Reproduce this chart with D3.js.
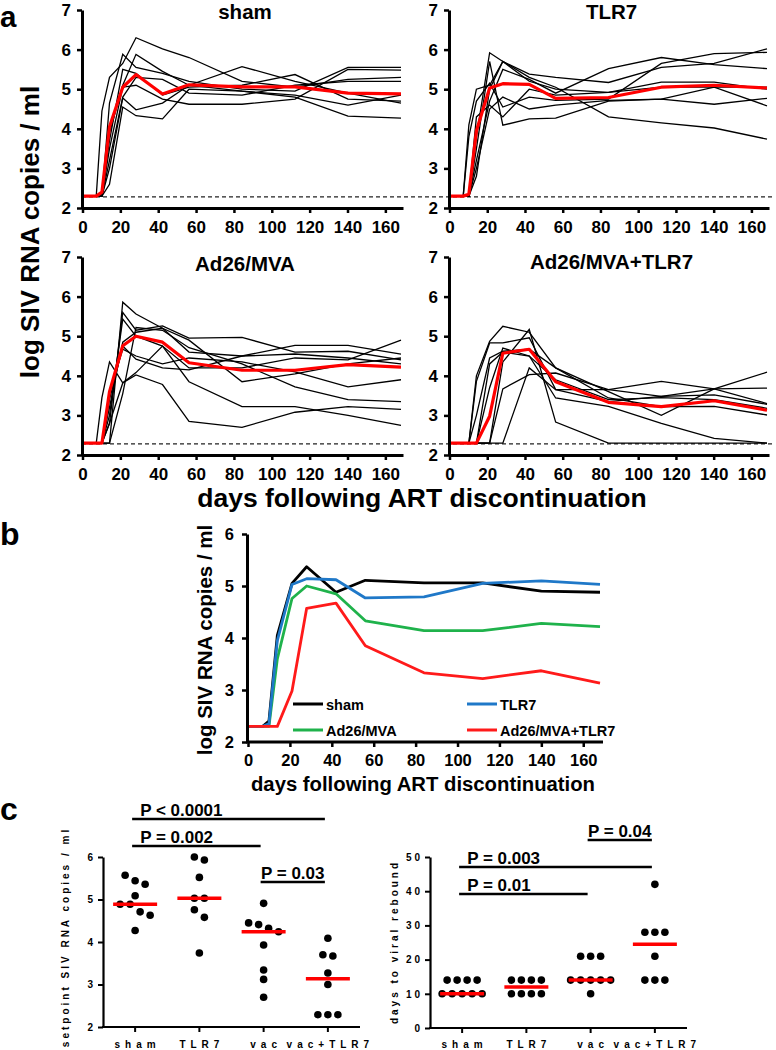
<!DOCTYPE html>
<html><head><meta charset="utf-8">
<script src="https://cdn.jsdelivr.net/npm/d3@7"></script>
<style>
body{margin:0;background:#fff}
svg{display:block}
text{font-family:"Liberation Sans",Arial,Helvetica,sans-serif;font-weight:bold;fill:#000}
</style>
</head><body>
<svg id="fig" width="776" height="1050"></svg>
<script>
// ---------------- DATA ----------------
const days = [0, 7, 10, 14, 21, 28, 42, 56, 84, 112, 140, 168];
const lodLog = 2.28;

const shamAnimals = [
  [2.3,2.3,4.45,5.3,5.65,6.3,6.02,5.8,5.2,5.05,5.25,5.3],
  [2.3,2.3,2.3,4.65,5.88,5.55,5.4,5.2,5.0,4.95,5.55,5.55],
  [2.3,2.3,2.3,3.9,5.1,5.88,5.45,5.1,4.95,4.85,4.6,4.85],
  [2.3,2.3,2.3,3.0,4.78,4.48,4.65,5.1,5.57,5.2,4.9,4.65],
  [2.3,2.3,2.3,2.6,4.55,4.33,4.25,5.0,4.95,4.8,4.32,4.27],
  [2.3,2.3,2.3,3.5,5.05,5.1,4.75,4.62,4.62,4.75,5.5,5.48],
  [2.3,2.3,2.4,3.7,5.5,5.4,4.85,5.05,5.1,5.37,4.75,4.7],
  [2.3,2.3,2.3,3.2,4.8,5.3,5.25,4.9,4.85,5.1,5.2,5.2]
];
const shamMean = [2.3,2.3,2.4,4.05,5.05,5.37,4.88,5.11,5.06,5.06,4.9,4.88];

const tlr7Animals = [
  [2.3,2.3,4.1,5.0,5.1,5.7,5.3,5.05,4.3,4.15,4.02,3.74],
  [2.3,2.3,2.3,3.8,5.92,5.7,5.38,5.3,5.17,5.55,5.65,6.02],
  [2.3,2.3,2.3,3.5,5.7,4.09,4.25,4.27,4.7,4.75,5.05,4.58],
  [2.3,2.3,2.3,3.0,4.5,4.8,4.5,4.6,4.72,4.75,4.62,4.77],
  [2.3,2.3,2.3,2.8,5.0,5.7,5.2,5.0,4.92,5.18,5.18,5.0],
  [2.3,2.3,2.3,3.2,4.7,5.5,5.25,4.9,5.52,5.8,5.62,5.52],
  [2.3,2.3,3.8,4.7,5.15,4.55,4.8,4.72,4.75,5.65,5.9,5.93],
  [2.3,2.3,2.3,4.3,4.6,4.3,5.0,4.85,4.92,5.05,5.05,5.05]
];
const tlr7Mean = [2.3,2.3,2.35,3.95,5.03,5.14,5.12,4.77,4.79,5.05,5.1,5.03];

const ad26Animals = [
  [2.3,2.3,3.45,4.35,3.82,4.02,3.78,2.85,2.7,3.08,3.22,3.15],
  [2.3,2.3,2.3,2.3,5.86,5.56,5.2,4.9,3.85,4.05,4.3,4.45],
  [2.3,2.3,2.3,2.8,5.6,5.15,5.26,4.95,4.97,4.6,4.62,4.4],
  [2.3,2.3,2.3,3.0,5.43,5.0,4.75,3.85,3.22,3.22,3.0,2.75],
  [2.3,2.3,2.3,3.4,4.75,4.42,4.2,4.15,4.5,4.77,4.77,4.55],
  [2.3,2.3,2.3,3.6,4.67,4.5,4.3,4.45,4.35,4.1,3.72,3.9],
  [2.3,2.3,2.3,2.3,3.55,5.22,5.15,4.71,4.3,3.72,3.4,3.35],
  [2.3,2.3,2.3,2.8,3.82,4.08,4.75,4.2,4.2,4.45,4.4,4.9],
  [2.3,2.3,2.3,3.2,4.85,5.1,5.2,4.6,4.5,4.55,4.45,4.3]
];
const ad26Mean = [2.3,2.3,2.3,3.6,4.76,5.0,4.85,4.33,4.14,4.14,4.28,4.22];

const comboAnimals = [
  [2.3,2.3,2.3,4.0,4.87,5.25,5.1,4.2,3.6,3.0,3.67,4.09],
  [2.3,2.3,2.3,3.86,4.83,4.83,4.96,3.65,3.65,3.86,3.67,3.3],
  [2.3,2.3,2.3,2.3,2.3,4.35,5.17,2.83,2.3,2.3,2.3,2.3],
  [2.3,2.3,2.3,2.3,3.7,4.7,4.5,3.44,3.23,2.8,2.42,2.3],
  [2.3,2.3,2.3,2.3,2.3,3.67,4.03,4.07,3.65,3.48,3.67,3.69],
  [2.3,2.3,2.3,2.3,2.3,2.3,4.2,3.65,3.35,3.48,3.52,3.28],
  [2.3,2.3,2.3,3.0,4.45,4.62,4.67,4.2,3.44,3.22,3.23,3.01],
  [2.3,2.3,2.3,2.3,4.3,4.6,4.5,3.9,3.4,3.45,3.4,3.18]
];
const comboMean = [2.3,2.3,2.3,2.3,2.98,4.57,4.67,3.85,3.33,3.22,3.37,3.13];

const xTicksDays = [0,20,40,60,80,100,120,140,160];
const yTicksA = [2,3,4,5,6,7];
const yTicksB = [2,3,4,5,6];

const groupTitlesA = ["sham", "TLR7", "Ad26/MVA", "Ad26/MVA+TLR7"];
const legendNames = ["sham", "TLR7", "Ad26/MVA", "Ad26/MVA+TLR7"];
const legendColors = ["#000000", "#1f78c8", "#1fb24b", "#ff1a1a"];

const categoriesC = ["sham", "TLR7", "vac", "vac+TLR7"];
const setpointSham  = [5.57,5.44,5.36,5.09,4.89,4.89,4.71,4.63,4.27];
const setpointTLR7  = [6.0,5.93,5.52,5.03,5.03,4.76,4.58,3.74];
const setpointVac   = [4.91,4.45,4.41,4.32,4.24,3.93,3.34,3.12,2.70];
const setpointCombo = [4.09,3.70,3.67,3.27,3.0,2.29,2.29,2.29];
const yTicksSet = [2,3,4,5,6];

const reboundSham  = [14,14,14,14,10,10,10,10,10];
const reboundTLR7  = [14,14,14,14,10,10,10,10];
const reboundVac   = [21,21,21,14,14,14,14,14,10];
const reboundCombo = [42,28,28,28,21,14,14,14];
const yTicksReb = [0,10,20,30,40,50];

const sigSetpoint = [["sham","vac+TLR7","P < 0.0001"],["sham","vac","P = 0.002"],["vac","vac+TLR7","P = 0.03"]];
const sigRebound  = [["vac","vac+TLR7","P = 0.04"],["sham","vac+TLR7","P = 0.003"],["sham","vac","P = 0.01"]];

// ---------------- DRAWING ----------------
const svg = d3.select("#fig");
svg.append("rect").attr("width",776).attr("height",1050).attr("fill","#fff");
const FONT = '"Liberation Sans",Arial,Helvetica,sans-serif';

function styleAxis(g, fs, sw, tsw, ls){
  g.attr("font-size", fs).attr("font-family", FONT);
  g.select(".domain").attr("stroke","#000").attr("stroke-width", sw);
  g.selectAll(".tick line").attr("stroke","#000").attr("stroke-width", tsw);
  g.selectAll(".tick text").attr("fill","#000");
  if (ls) g.selectAll(".tick text").style("letter-spacing", ls + "px");
}

// ----- panel a -----
const panelsA = [
  {animals: shamAnimals,  mean: shamMean,  xr:[83,401],  axisX:82,  yr:[208,10],  titleY:19},
  {animals: tlr7Animals,  mean: tlr7Mean,  xr:[450,767], axisX:449, yr:[208,10],  titleY:19},
  {animals: ad26Animals,  mean: ad26Mean,  xr:[83,401],  axisX:82,  yr:[455,257], titleY:271},
  {animals: comboAnimals, mean: comboMean, xr:[450,767], axisX:449, yr:[455,257], titleY:269}
];

panelsA.forEach((p, k) => {
  const g = svg.append("g");
  const x = d3.scaleLinear().domain([0,168]).range(p.xr);
  const y = d3.scaleLinear().domain([2,7]).range(p.yr);
  if (k % 2 === 0) {
    g.append("line").attr("x1", p.axisX).attr("x2", 775)
      .attr("y1", y(lodLog)).attr("y2", y(lodLog))
      .attr("stroke","#222").attr("stroke-width",1.2).attr("stroke-dasharray","4,3");
  }
  const line = d3.line().x((d,i)=>x(days[i])).y(d=>y(d));
  g.selectAll("path.ind").data(p.animals).enter().append("path")
    .attr("class","ind").attr("d", line).attr("fill","none")
    .attr("stroke","#000").attr("stroke-width",1.3).attr("stroke-linejoin","miter");
  g.append("path").attr("d", line(p.mean)).attr("fill","none")
    .attr("stroke","#ff0000").attr("stroke-width",3.2).attr("stroke-linejoin","round");
  const ya = g.append("g").attr("transform",`translate(${p.axisX},0)`)
    .call(d3.axisLeft(y).tickValues(yTicksA).tickSize(5).tickSizeOuter(0).tickPadding(6).tickFormat(d3.format("d")));
  styleAxis(ya, 17, 3, 2.5);
  const xa = g.append("g").attr("transform",`translate(0,${p.yr[0]})`)
    .call(d3.axisBottom(d3.scaleLinear().domain([0,168]).range([p.axisX, p.xr[1]+2]))
      .tickValues(xTicksDays).tickSize(5).tickSizeOuter(0).tickPadding(8).tickFormat(d3.format("d")));
  xa.selectAll(".tick").attr("transform", d => `translate(${x(d)},0)`);
  styleAxis(xa, 17, 3, 2.5);
  g.append("text").attr("x", (p.xr[0]+p.xr[1])/2 + 3).attr("y", p.titleY)
    .attr("text-anchor","middle").attr("font-size",20.5).text(groupTitlesA[k]);
});

svg.append("text").attr("transform","translate(39,232) rotate(-90)")
  .attr("text-anchor","middle").attr("font-size",26).text("log SIV RNA copies / ml");
svg.append("text").attr("x",422).attr("y",507).attr("text-anchor","middle")
  .attr("font-size",26.5).text("days following ART discontinuation");

// ----- panel b -----
{
  const g = svg.append("g");
  const x = d3.scaleLinear().domain([0,168]).range([248,600]);
  const y = d3.scaleLinear().domain([2,6]).range([742,534]);
  const line = d3.line().x((d,i)=>x(days[i])).y(d=>y(d));
  const seriesB = [shamMean, tlr7Mean, ad26Mean, comboMean];
  [0,2,1,3].forEach(i => {
    g.append("path").attr("d", line(seriesB[i])).attr("fill","none")
      .attr("stroke", legendColors[i]).attr("stroke-width",2.8).attr("stroke-linejoin","round");
  });
  const ya = g.append("g").attr("transform","translate(247,0)")
    .call(d3.axisLeft(y).tickValues(yTicksB).tickSize(5).tickSizeOuter(0).tickPadding(8).tickFormat(d3.format("d")));
  styleAxis(ya, 16.5, 3, 2.5);
  const xa = g.append("g").attr("transform","translate(0,742)")
    .call(d3.axisBottom(x).tickValues(xTicksDays).tickSize(5).tickSizeOuter(0).tickPadding(7).tickFormat(d3.format("d")));
  styleAxis(xa, 16.5, 3, 2.5);
  xa.select(".domain").attr("d","M246,0H603");
  legendNames.forEach((n,i) => {
    const lx = 293 + (i % 2) * 174, ly = 704 + Math.floor(i/2) * 26;
    g.append("line").attr("x1",lx).attr("x2",lx+30).attr("y1",ly).attr("y2",ly)
      .attr("stroke", legendColors[i]).attr("stroke-width",3);
    g.append("text").attr("x", lx+33).attr("y", ly+5.5).attr("font-size",14.5).text(n);
  });
  svg.append("text").attr("transform","translate(212,640) rotate(-90)")
    .attr("text-anchor","middle").attr("font-size",20.5).text("log SIV RNA copies / ml");
  svg.append("text").attr("x",423).attr("y",791).attr("text-anchor","middle")
    .attr("font-size",20.3).text("days following ART discontinuation");
}

// ----- panel c -----
function layoutRows(vals, y, thresh, spacing){
  const order = vals.map((v,i)=>({v,i,py:y(v)})).sort((a,b)=>a.py-b.py);
  const rows = [];
  order.forEach(o => {
    const last = rows.length ? rows[rows.length-1] : null;
    if (last && o.py - last[last.length-1].py < thresh) last.push(o); else rows.push([o]);
  });
  const out = [];
  rows.forEach(r => r.forEach((o,j) => out.push({v:o.v, py:o.py, dx:(j-(r.length-1)/2)*spacing})));
  return out;
}

function scatterPanel(cfg){
  const g = svg.append("g");
  const x = d3.scaleBand().domain(categoriesC).range(cfg.xr).paddingInner(0).paddingOuter(0);
  const cx = c => x(c) + x.bandwidth()/2;
  const y = d3.scaleLinear().domain(cfg.domain).range(cfg.yr);
  cfg.groups.forEach((vals, gi) => {
    const c = categoriesC[gi];
    const pts = layoutRows(vals, y, 8.1, 10);
    g.selectAll(null).data(pts).enter().append("circle")
      .attr("cx", d => cx(c) + d.dx).attr("cy", d => d.py).attr("r",3.8).attr("fill","#000");
    const med = d3.median(vals);
    g.append("line").attr("x1", cx(c)-22).attr("x2", cx(c)+22)
      .attr("y1", y(med)).attr("y2", y(med)).attr("stroke","#ff0000").attr("stroke-width",3.5);
  });
  const ya = g.append("g").attr("transform",`translate(${cfg.xr[0]},0)`)
    .call(d3.axisLeft(y).tickValues(cfg.ticks).tickSize(5).tickSizeOuter(0).tickPadding(5).tickFormat(d3.format("d")));
  styleAxis(ya, 10, 2.2, 2, 3);
  ya.selectAll(".tick text").attr("dx", 3);
  const xa = g.append("g").attr("transform",`translate(0,${cfg.yr[0]})`)
    .call(d3.axisBottom(x).tickSize(5).tickSizeOuter(0).tickPadding(9).tickFormat(()=>""));
  styleAxis(xa, 10, 2.2, 2);
  xa.select(".domain").attr("d", `M${cfg.xr[0]-1},0H${cfg.xr[1]}`);
  categoriesC.forEach(c => {
    g.append("text").attr("x", cx(c)+2.5).attr("y", 1048).attr("text-anchor","middle")
      .attr("font-size",10).style("letter-spacing","5px").text(c);
  });
  g.append("text").attr("transform",`translate(${cfg.titleX},${cfg.titleY}) rotate(-90)`)
    .attr("text-anchor","middle").attr("font-size",10).style("letter-spacing","3px").text(cfg.title);
  cfg.sig.forEach((s, i) => {
    const x1 = cx(s[0]) - 3, x2 = cx(s[1]) - 3, by = cfg.barY[i];
    g.append("line").attr("x1",x1).attr("x2",x2).attr("y1",by).attr("y2",by)
      .attr("stroke","#000").attr("stroke-width",2.5);
    const t = g.append("text").attr("y", by-3.5).attr("font-size",17).text(s[2]);
    const tw = t.node().getComputedTextLength();
    t.attr("x", x1 + Math.min(8, Math.max(0,(x2-x1-tw)/2)));
  });
}

scatterPanel({xr:[103,360], yr:[1027,857], domain:[2,6], ticks:yTicksSet,
  groups:[setpointSham,setpointTLR7,setpointVac,setpointCombo],
  title:"setpoint SIV RNA copies / ml", titleX:69, titleY:937, sig:sigSetpoint, barY:[819,846,882]});
scatterPanel({xr:[430,687], yr:[1028,857], domain:[0,50], ticks:yTicksReb,
  groups:[reboundSham,reboundTLR7,reboundVac,reboundCombo],
  title:"days to viral rebound", titleX:398, titleY:942, sig:sigRebound, barY:[840,867,894]});

svg.append("text").attr("x",0).attr("y",27).attr("font-size",29.5).text("a");
svg.append("text").attr("x",0).attr("y",545).attr("font-size",32).text("b");
svg.append("text").attr("x",0).attr("y",820).attr("font-size",32).text("c");
</script>
</body></html>
